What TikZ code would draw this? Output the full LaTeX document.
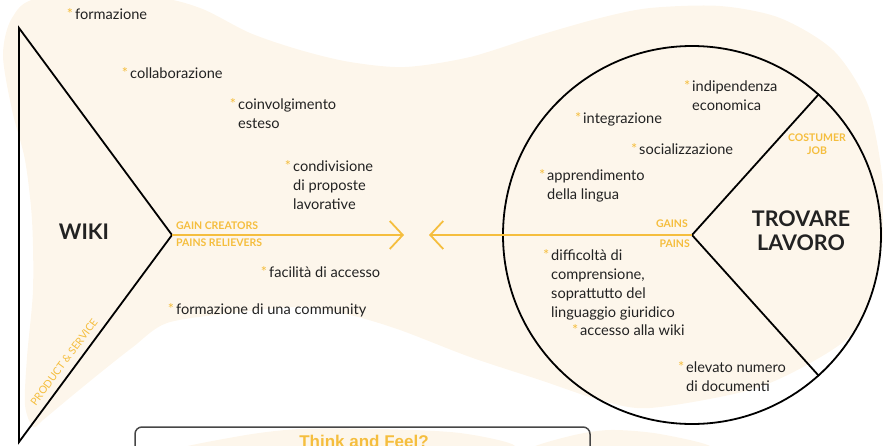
\documentclass[tikz,border=0pt]{standalone}
\usepackage{fontspec}
\setmainfont{Lato}
\newfontfamily\thinkfont{Liberation Sans}
\usetikzlibrary{
  arrows.meta,
  positioning
}
\definecolor{vpyellow}{RGB}{245,190,62}
\definecolor{vpcream}{RGB}{253,246,235}
\definecolor{boxgray}{RGB}{70,70,70}
\definecolor{inkgray}{RGB}{34,34,34}

% yellow asterisk hanging left of an item
\newcommand{\pnt}{\leavevmode\llap{\textcolor{vpyellow}{*}\hspace{2pt}}}

\begin{document}
\begin{tikzpicture}[x=1pt, y=-1pt,
  item/.style={font=\fontsize{14.6}{18.8}\selectfont, text=inkgray, anchor=base west, inner sep=0pt, align=left},
  tag/.style={font=\fontsize{10.5}{13}\selectfont\bfseries, text=vpyellow, inner sep=0pt},
  title/.style={font=\fontsize{21.5}{24}\selectfont\bfseries, text=inkgray, inner sep=0pt, align=center, anchor=base},
  edge/.style={line width=1.8pt, black},
  gainline/.style={line width=1.8pt, vpyellow, -{Straight Barb[length=13pt, width=28pt]}}]

  \useasboundingbox (0,0) rectangle (883,445);

  % Background
  \begin{scope}
    \clip (0,0) rectangle (883,445);
    \fill[vpcream] plot[smooth cycle] coordinates {
      (3,55) (12,18) (40,-2) (150,-3) (200,8) (250,33) (300,50) (350,62) (405,67)
      (470,57) (540,35) (600,18) (650,8) (720,6) (780,18) (833,50) (866,100)
      (880,160) (884,215) (878,270) (855,330) (812,362) (750,390) (650,408)
      (600,400) (540,380) (470,357) (400,330) (350,315) (300,307) (233,313)
      (167,323) (133,347) (100,373) (67,400) (43,420) (33,427) (25,405)
      (27,357) (33,290) (32,220) (25,160) (12,110)};
    \fill[vpcream] plot[smooth cycle] coordinates {
      (170,452) (240,436) (300,429) (380,429) (460,433) (515,446) (480,462) (250,462)};
    \fill[vpcream] plot[smooth cycle] coordinates {
      (528,450) (570,436) (610,430) (660,434) (712,448) (650,462) (560,462)};
    % Think and Feel box
    \draw[boxgray, line width=1.5pt, rounded corners=7pt] (135,427) rectangle (590,480);
    \node[font=\thinkfont\bfseries\fontsize{17}{20}\selectfont, text=vpyellow, anchor=base, inner sep=0pt]
      (think) at (364,447) {Think and Feel?};
  \end{scope}

  % Product & service triangle
  \coordinate (top) at (19,28);
  \coordinate (apex) at (172,235);
  \coordinate (bottom) at (19,442);
  \draw[edge, line join=miter] (top) -- (apex) -- (bottom) -- cycle;

  % Customer profile circle
  \node[circle, draw, line width=1.8pt, minimum size=378pt, inner sep=0pt] (circ) at (692,235) {};
  \draw[edge] (circ.48.8) -- (circ.center) -- (circ.-48.8);

  % Fit arrows
  \coordinate (tipR) at (404,235);
  \coordinate (tipL) at (429,235);
  \draw[gainline] (apex) -- (tipR);
  \draw[gainline] (circ.center) -- (tipL);

  % Titles (multi-line: placed at last baseline)
  \node[title] (wiki) at (84,239) {WIKI};
  \node[title] (trovare) at (801,250) {TROVARE\\LAVORO};

  % Section tags
  \node[tag, anchor=base west] (gaincr) at (176,229) {GAIN CREATORS};
  \node[tag, anchor=base west] (painrel) at (176,246) {PAINS RELIEVERS};
  \node[tag, anchor=base east] (gains) at (688,227) {GAINS};
  \node[tag, anchor=base east] (pains) at (690,247) {PAINS};
  \node[tag, align=center, anchor=base] (custjob) at (817,154) {COSTUMER\\JOB};
  \node[tag, font=\fontsize{10.5}{13}\selectfont, rotate=53.4] (prodserv) at (64,362) {PRODUCT \& SERVICE};

  % Gain creators
  \node[item] (formaz) at (75,19) {\pnt formazione};
  \node[item] (collab) at (130,78) {\pnt collaborazione};
  \node[item] (coinv) at (238,128) {\pnt coinvolgimento\\esteso};
  \node[item] (condiv) at (293,209) {\pnt condivisione\\di proposte\\lavorative};
  % Pain relievers
  \node[item] (facil) at (269,277) {\pnt facilità di accesso};
  \node[item] (commun) at (176,314) {\pnt formazione di una community};

  % Gains
  \node[item] (indip) at (692,110) {\pnt indipendenza\\economica};
  \node[item] (integr) at (583,123) {\pnt integrazione};
  \node[item] (social) at (639,154) {\pnt socializzazione};
  \node[item] (apprend) at (547,199) {\pnt apprendimento\\della lingua};
  % Pains
  \node[item] (diffic) at (551,317) {\pnt difficoltà di\\comprensione,\\soprattutto del\\linguaggio giuridico};
  \node[item] (accesso) at (580,335) {\pnt accesso alla wiki};
  \node[item] (elevato) at (686,391) {\pnt elevato numero\\di documenti};
\end{tikzpicture}
\end{document}
